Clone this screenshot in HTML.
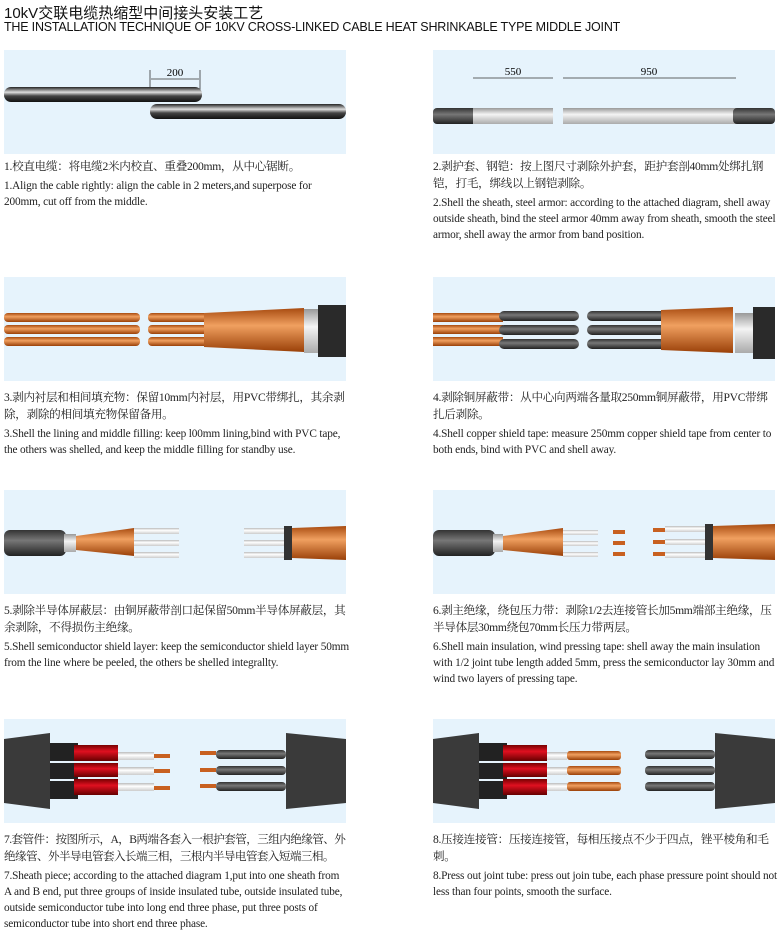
<!DOCTYPE html>
<html><head><meta charset="utf-8"><style>
body{margin:0;width:780px;height:932px;background:#fff;position:relative;overflow:hidden;font-family:"Liberation Serif","Noto Serif CJK SC",serif;color:#222}
.h1{position:absolute;left:4px;top:2px;font:15px "Liberation Sans","Noto Sans CJK SC",sans-serif;color:#111}
.h2{position:absolute;left:4px;top:20px;font:12.5px "Liberation Sans",sans-serif;color:#111;letter-spacing:-0.2px}
.p{position:absolute;background:#e6f3fc;width:342px;height:104px}
.p svg{display:block}
.t{position:absolute;width:346px;font-size:11.3px;line-height:16px;letter-spacing:-0.15px}
.t .c{font-size:11.6px;line-height:17px;margin-bottom:3px;letter-spacing:-0.3px;font-family:"Liberation Serif","Noto Serif CJK SC",serif}
</style></head><body>
<div class="h1">10kV交联电缆热缩型中间接头安装工艺</div>
<div class="h2">THE INSTALLATION TECHNIQUE OF 10KV CROSS-LINKED CABLE HEAT SHRINKABLE TYPE MIDDLE JOINT</div>
<svg width="0" height="0" style="position:absolute"><defs>
<linearGradient id="blk" x1="0" y1="0" x2="0" y2="1"><stop offset="0" stop-color="#222"/><stop offset=".35" stop-color="#ddd"/><stop offset=".6" stop-color="#444"/><stop offset="1" stop-color="#111"/></linearGradient>
<linearGradient id="cu" x1="0" y1="0" x2="0" y2="1"><stop offset="0" stop-color="#a84b10"/><stop offset=".4" stop-color="#f0a060"/><stop offset="1" stop-color="#9a4008"/></linearGradient>
<linearGradient id="dk" x1="0" y1="0" x2="0" y2="1"><stop offset="0" stop-color="#333"/><stop offset=".4" stop-color="#777"/><stop offset="1" stop-color="#222"/></linearGradient>
<linearGradient id="rd" x1="0" y1="0" x2="0" y2="1"><stop offset="0" stop-color="#700"/><stop offset=".4" stop-color="#e01020"/><stop offset="1" stop-color="#600"/></linearGradient>
<linearGradient id="wh" x1="0" y1="0" x2="0" y2="1"><stop offset="0" stop-color="#bbb"/><stop offset=".4" stop-color="#fff"/><stop offset="1" stop-color="#ccc"/></linearGradient>
<linearGradient id="sv" x1="0" y1="0" x2="0" y2="1"><stop offset="0" stop-color="#999"/><stop offset=".4" stop-color="#f4f4f4"/><stop offset="1" stop-color="#aaa"/></linearGradient>
</defs></svg>

<div class="p" style="left:4px;top:50px"><svg width="342" height="104">
<line x1="146" y1="20" x2="146" y2="52" stroke="#333" stroke-width=".8"/><line x1="196" y1="20" x2="196" y2="50" stroke="#333" stroke-width=".8"/>
<line x1="147" y1="29" x2="195" y2="29" stroke="#333" stroke-width=".8"/>
<text x="171" y="26" font-size="11" text-anchor="middle" font-family="Liberation Serif">200</text>
<rect x="0" y="37" width="198" height="15" rx="7" fill="url(#blk)"/>
<rect x="146" y="54" width="196" height="15" rx="7" fill="url(#blk)"/>
</svg></div>
<div class="p" style="left:433px;top:50px"><svg width="342" height="104">
<line x1="40" y1="28" x2="120" y2="28" stroke="#333" stroke-width=".8"/><line x1="130" y1="28" x2="303" y2="28" stroke="#333" stroke-width=".8"/>
<text x="80" y="25" font-size="11" text-anchor="middle" font-family="Liberation Serif">550</text>
<text x="216" y="25" font-size="11" text-anchor="middle" font-family="Liberation Serif">950</text>
<rect x="0" y="58" width="45" height="16" rx="4" fill="url(#dk)"/>
<rect x="40" y="58" width="80" height="16" fill="url(#sv)"/>
<rect x="130" y="58" width="175" height="16" fill="url(#sv)"/>
<rect x="300" y="58" width="42" height="16" rx="4" fill="url(#dk)"/>
</svg></div>
<div class="t" style="left:4px;top:158px"><div class="c">1.校直电缆：将电缆2米内校直、重叠200mm，从中心锯断。</div>1.Align the cable rightly: align the cable in 2 meters,and superpose for 200mm, cut off from the middle.</div>
<div class="t" style="left:433px;top:158px"><div class="c">2.剥护套、钢铠：按上图尺寸剥除外护套，距护套剖40mm处绑扎钢铠，打毛，绑线以上钢铠剥除。</div>2.Shell the sheath, steel armor: according to the attached diagram, shell away outside sheath, bind the steel armor 40mm away from sheath, smooth the steel armor, shell away the armor from band position.</div>

<div class="p" style="left:4px;top:277px"><svg width="342" height="104">
<rect x="0" y="36" width="136" height="9" rx="4" fill="url(#cu)"/><rect x="0" y="48" width="136" height="9" rx="4" fill="url(#cu)"/><rect x="0" y="60" width="136" height="9" rx="4" fill="url(#cu)"/>
<rect x="144" y="36" width="146" height="9" rx="4" fill="url(#cu)"/><rect x="144" y="48" width="146" height="9" rx="4" fill="url(#cu)"/><rect x="144" y="60" width="146" height="9" rx="4" fill="url(#cu)"/>
<path d="M200 36 L300 31 L300 75 L200 70 Z" fill="url(#cu)"/>
<rect x="300" y="32" width="14" height="44" fill="url(#sv)"/>
<rect x="314" y="28" width="28" height="52" fill="#2a2a2a"/>
</svg></div>
<div class="p" style="left:433px;top:277px"><svg width="342" height="104">
<rect x="0" y="36" width="70" height="9" fill="url(#cu)"/><rect x="0" y="48" width="70" height="9" fill="url(#cu)"/><rect x="0" y="60" width="70" height="9" fill="url(#cu)"/>
<rect x="66" y="34" width="80" height="10" rx="5" fill="url(#dk)"/><rect x="66" y="48" width="80" height="10" rx="5" fill="url(#dk)"/><rect x="66" y="62" width="80" height="10" rx="5" fill="url(#dk)"/>
<rect x="154" y="34" width="90" height="10" rx="5" fill="url(#dk)"/><rect x="154" y="48" width="90" height="10" rx="5" fill="url(#dk)"/><rect x="154" y="62" width="90" height="10" rx="5" fill="url(#dk)"/>
<path d="M228 33 L300 30 L300 76 L228 73 Z" fill="url(#cu)"/>
<rect x="302" y="36" width="20" height="40" fill="url(#sv)"/>
<rect x="320" y="30" width="22" height="52" fill="#2a2a2a"/>
</svg></div>
<div class="t" style="left:4px;top:389px"><div class="c">3.剥内衬层和相间填充物：保留10mm内衬层，用PVC带绑扎，其余剥除，剥除的相间填充物保留备用。</div>3.Shell the lining and middle filling: keep l00mm lining,bind with PVC tape, the others was shelled, and keep the middle filling for standby use.</div>
<div class="t" style="left:433px;top:389px"><div class="c">4.剥除铜屏蔽带：从中心向两端各量取250mm铜屏蔽带，用PVC带绑扎后剥除。</div>4.Shell copper shield tape: measure 250mm copper shield tape from center to both ends, bind with PVC and shell away.</div>

<div class="p" style="left:4px;top:490px"><svg width="342" height="104">
<rect x="0" y="40" width="62" height="26" rx="6" fill="url(#dk)"/>
<rect x="60" y="44" width="12" height="18" fill="url(#sv)"/>
<path d="M72 46 L130 38 L130 66 L72 60 Z" fill="url(#cu)"/>
<rect x="130" y="38" width="45" height="6" fill="url(#wh)"/><rect x="130" y="50" width="45" height="6" fill="url(#wh)"/><rect x="130" y="62" width="45" height="6" fill="url(#wh)"/>
<rect x="240" y="38" width="40" height="6" fill="url(#wh)"/><rect x="240" y="50" width="40" height="6" fill="url(#wh)"/><rect x="240" y="62" width="40" height="6" fill="url(#wh)"/>
<rect x="280" y="36" width="8" height="34" fill="#333"/>
<path d="M288 38 L342 36 L342 70 L288 68 Z" fill="url(#cu)"/>
</svg></div>
<div class="p" style="left:433px;top:490px"><svg width="342" height="104">
<rect x="0" y="40" width="62" height="26" rx="6" fill="url(#dk)"/>
<rect x="60" y="44" width="10" height="18" fill="url(#sv)"/>
<path d="M70 46 L130 38 L130 66 L70 60 Z" fill="url(#cu)"/>
<rect x="130" y="40" width="35" height="5" fill="url(#wh)"/><rect x="130" y="51" width="35" height="5" fill="url(#wh)"/><rect x="130" y="62" width="35" height="5" fill="url(#wh)"/>
<rect x="180" y="40" width="12" height="4" fill="#c86020"/><rect x="180" y="51" width="12" height="4" fill="#c86020"/><rect x="180" y="62" width="12" height="4" fill="#c86020"/>
<rect x="220" y="38" width="12" height="4" fill="#c86020"/><rect x="220" y="50" width="12" height="4" fill="#c86020"/><rect x="220" y="62" width="12" height="4" fill="#c86020"/>
<rect x="232" y="36" width="40" height="6" fill="url(#wh)"/><rect x="232" y="49" width="40" height="6" fill="url(#wh)"/><rect x="232" y="62" width="40" height="6" fill="url(#wh)"/>
<rect x="272" y="34" width="8" height="36" fill="#333"/>
<path d="M280 36 L342 34 L342 70 L280 68 Z" fill="url(#cu)"/>
</svg></div>
<div class="t" style="left:4px;top:602px"><div class="c">5.剥除半导体屏蔽层：由铜屏蔽带剖口起保留50mm半导体屏蔽层，其余剥除，不得损伤主绝缘。</div>5.Shell semiconductor shield layer: keep the semiconductor shield layer 50mm from the line where be peeled, the others be shelled integrallty.</div>
<div class="t" style="left:433px;top:602px"><div class="c">6.剥主绝缘，绕包压力带：剥除1/2去连接管长加5mm端部主绝缘，压半导体层30mm绕包70mm长压力带两层。</div>6.Shell main insulation, wind pressing tape: shell away the main insulation with 1/2 joint tube length added 5mm, press the semiconductor lay 30mm and wind two layers of pressing tape.</div>

<div class="p" style="left:4px;top:719px"><svg width="342" height="104">
<path d="M0 20 L46 14 L46 90 L0 84 Z" fill="#3a3a3a"/>
<rect x="46" y="24" width="28" height="18" fill="#222"/><rect x="46" y="44" width="28" height="16" fill="#222"/><rect x="46" y="62" width="28" height="18" fill="#222"/>
<rect x="70" y="26" width="44" height="16" fill="url(#rd)"/><rect x="70" y="44" width="44" height="14" fill="url(#rd)"/><rect x="70" y="60" width="44" height="16" fill="url(#rd)"/>
<rect x="114" y="33" width="36" height="8" fill="url(#wh)"/><rect x="114" y="48" width="36" height="8" fill="url(#wh)"/><rect x="114" y="64" width="36" height="8" fill="url(#wh)"/>
<rect x="150" y="35" width="16" height="4" fill="#c86020"/><rect x="150" y="50" width="16" height="4" fill="#c86020"/><rect x="150" y="67" width="16" height="4" fill="#c86020"/>
<rect x="196" y="32" width="16" height="4" fill="#c86020"/><rect x="196" y="49" width="16" height="4" fill="#c86020"/><rect x="196" y="65" width="16" height="4" fill="#c86020"/>
<rect x="212" y="31" width="70" height="9" rx="4" fill="url(#dk)"/><rect x="212" y="47" width="70" height="9" rx="4" fill="url(#dk)"/><rect x="212" y="63" width="70" height="9" rx="4" fill="url(#dk)"/>
<path d="M282 14 L342 20 L342 84 L282 90 Z" fill="#3a3a3a"/>
</svg></div>
<div class="p" style="left:433px;top:719px"><svg width="342" height="104">
<path d="M0 20 L46 14 L46 90 L0 84 Z" fill="#3a3a3a"/>
<rect x="46" y="24" width="28" height="18" fill="#222"/><rect x="46" y="44" width="28" height="16" fill="#222"/><rect x="46" y="62" width="28" height="18" fill="#222"/>
<rect x="70" y="26" width="44" height="16" fill="url(#rd)"/><rect x="70" y="44" width="44" height="14" fill="url(#rd)"/><rect x="70" y="60" width="44" height="16" fill="url(#rd)"/>
<rect x="114" y="33" width="20" height="8" fill="url(#wh)"/><rect x="114" y="48" width="20" height="8" fill="url(#wh)"/><rect x="114" y="64" width="20" height="8" fill="url(#wh)"/>
<rect x="134" y="32" width="54" height="9" rx="3" fill="url(#cu)"/><rect x="134" y="47" width="54" height="9" rx="3" fill="url(#cu)"/><rect x="134" y="63" width="54" height="9" rx="3" fill="url(#cu)"/>
<rect x="212" y="31" width="70" height="9" rx="4" fill="url(#dk)"/><rect x="212" y="47" width="70" height="9" rx="4" fill="url(#dk)"/><rect x="212" y="63" width="70" height="9" rx="4" fill="url(#dk)"/>
<path d="M282 14 L342 20 L342 84 L282 90 Z" fill="#3a3a3a"/>
</svg></div>
<div class="t" style="left:4px;top:831px"><div class="c" style="letter-spacing:-0.6px;width:346px">7.套管件：按图所示，A，B两端各套入一根护套管，三组内绝缘管、外绝缘管、外半导电管套入长端三相，三根内半导电管套入短端三相。</div><div style="width:340px">7.Sheath piece; according to the attached diagram 1,put into one sheath from A and B end, put three groups of inside insulated tube, outside insulated tube, outside semiconductor tube into long end three phase, put three posts of semiconductor tube into short end three phase.</div></div>
<div class="t" style="left:433px;top:831px"><div class="c">8.压接连接管：压接连接管，每相压接点不少于四点，锉平棱角和毛刺。</div>8.Press out joint tube: press out join tube, each phase pressure point should not less than four points, smooth the surface.</div>
</body></html>
